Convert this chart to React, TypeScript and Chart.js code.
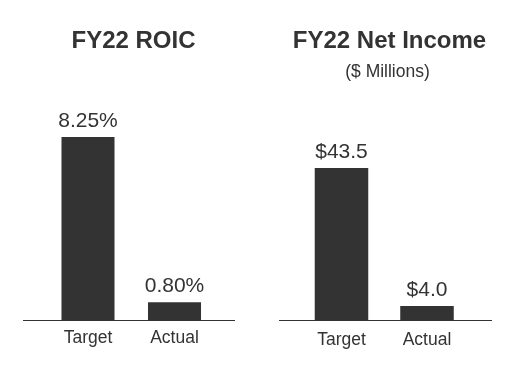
import React, { useEffect, useRef } from "react";
import { Chart, registerables } from "chart.js";

Chart.register(...registerables);

const categories = ["Target", "Actual"];
const roicValues = [8.25, 0.8];
const netIncomeValues = [43.5, 4.0];
const roicTitle = "FY22 ROIC";
const netIncomeTitle = "FY22 Net Income";
const netIncomeSubtitle = "($ Millions)";

const FONT = "'Liberation Sans', Arial, Helvetica, sans-serif";
const INK = "#333333";

function formatValue(kind: string, v: number): string {
  return kind === "pct" ? `${v.toFixed(2)}%` : `$${v.toFixed(1)}`;
}

const headerPlugin = {
  id: "header",
  afterDraw(chart: any, _args: any, opts: any) {
    const ctx = chart.ctx;
    const cx = chart.width / 2 + (opts.shift || 0);
    ctx.save();
    ctx.fillStyle = INK;
    ctx.textAlign = "center";
    ctx.textBaseline = "alphabetic";
    ctx.font = `bold 24px ${FONT}`;
    ctx.fillText(opts.title, cx, 48);
    if (opts.subtitle) {
      ctx.font = `17.5px ${FONT}`;
      ctx.fillText(opts.subtitle, chart.width / 2, 77);
    }
    ctx.restore();
  },
};

const valueLabelPlugin = {
  id: "valueLabels",
  afterDatasetsDraw(chart: any, _args: any, opts: any) {
    const kind = opts.kind as string;
    const ctx = chart.ctx;
    ctx.save();
    ctx.font = `21px ${FONT}`;
    ctx.fillStyle = INK;
    ctx.textAlign = "center";
    ctx.textBaseline = "alphabetic";
    const meta = chart.getDatasetMeta(0);
    meta.data.forEach((bar: any, i: number) => {
      const v = chart.data.datasets[0].data[i] as number;
      ctx.fillText(formatValue(kind, v), bar.x, bar.y - 10);
    });
    ctx.restore();
  },
};

const baseLinePlugin = {
  id: "baseLine",
  afterDatasetsDraw(chart: any, _args: any, opts: any) {
    const { ctx, chartArea } = chart;
    const extL = opts.extendLeft as number;
    const extR = opts.extendRight as number;
    ctx.save();
    ctx.strokeStyle = INK;
    ctx.lineWidth = 1;
    ctx.beginPath();
    const y = Math.round(chartArea.bottom) + 0.5;
    ctx.moveTo(chartArea.left - extL, y);
    ctx.lineTo(chartArea.right + extR, y);
    ctx.stroke();
    ctx.restore();
  },
};

type PanelProps = {
  left: number;
  width: number;
  values: number[];
  title: string;
  subtitle?: string;
  titleShift: number;
  kind: string;
  yMax: number;
  padTop: number;
  padLeft: number;
  padRight: number;
  padBottom: number;
  tickPad: number;
  barPct: number;
  extendLeft: number;
  extendRight: number;
};

function BarPanel(p: PanelProps) {
  const ref = useRef<HTMLCanvasElement | null>(null);
  useEffect(() => {
    if (!ref.current) return;
    const chart = new Chart(ref.current, {
      type: "bar",
      data: {
        labels: categories,
        datasets: [
          {
            data: p.values,
            backgroundColor: INK,
            borderWidth: 0,
            categoryPercentage: 1,
            barPercentage: p.barPct,
          },
        ],
      },
      options: {
        responsive: false,
        animation: false,
        layout: {
          padding: { top: p.padTop, left: p.padLeft, right: p.padRight, bottom: p.padBottom },
        },
        plugins: {
          legend: { display: false },
          tooltip: { enabled: false },
          title: { display: false },
          header: { title: p.title, subtitle: p.subtitle || "", shift: p.titleShift },
          valueLabels: { kind: p.kind },
          baseLine: { extendLeft: p.extendLeft, extendRight: p.extendRight },
        } as any,
        scales: {
          x: {
            type: "category",
            offset: true,
            grid: { display: false, drawTicks: false },
            border: { display: false },
            ticks: {
              color: INK,
              padding: p.tickPad,
              font: { family: FONT, size: 17.5, lineHeight: 1.2 },
            },
          },
          y: {
            display: false,
            min: 0,
            max: p.yMax,
          },
        },
      },
      plugins: [headerPlugin, valueLabelPlugin, baseLinePlugin],
    });
    return () => chart.destroy();
  }, []);
  return (
    <canvas
      ref={ref}
      width={p.width}
      height={368}
      style={{ position: "absolute", left: p.left, top: 0, width: p.width, height: 368 }}
    />
  );
}

export default function App() {
  return (
    <div style={{ position: "absolute", left: 0, top: 0, width: 517, height: 368, background: "#fff" }}>
      <BarPanel
        left={0}
        width={258}
        values={roicValues}
        title={roicTitle}
        titleShift={4.5}
        kind="pct"
        yMax={10}
        padTop={98.2}
        padLeft={44.75}
        padRight={40.25}
        padBottom={11}
        tickPad={8}
        barPct={0.613}
        extendLeft={21.75}
        extendRight={17.25}
      />
      <BarPanel
        left={258}
        width={259}
        values={netIncomeValues}
        title={netIncomeTitle}
        subtitle={netIncomeSubtitle}
        titleShift={2}
        kind="usd"
        yMax={50}
        padTop={145.3}
        padLeft={40.75}
        padRight={47.25}
        padBottom={7}
        tickPad={10}
        barPct={0.626}
        extendLeft={19.75}
        extendRight={22.25}
      />
    </div>
  );
}
